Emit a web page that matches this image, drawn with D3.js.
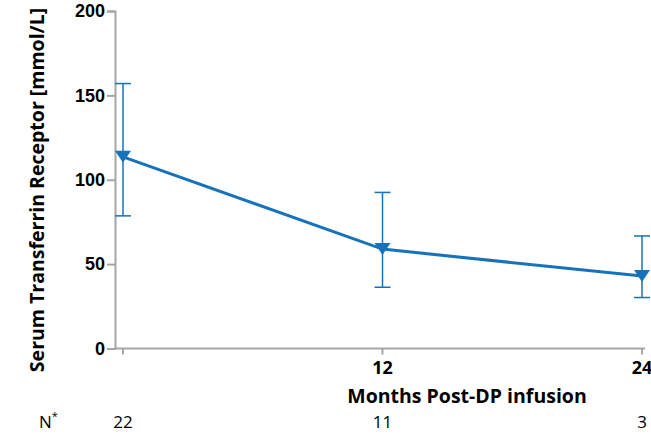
<!DOCTYPE html>
<html>
<head>
<meta charset="utf-8">
<script src="https://cdn.jsdelivr.net/npm/d3@7"></script>
<style>
  body { margin: 0; background: #fff; }
  svg { font-family: "Open Sans", "Noto Sans", sans-serif; }
</style>
</head>
<body>
<div id="chart"></div>
<script>
const months = [0, 12, 24];
const tickLabels = ["", "12", "24"];
const meanValues = [113.6, 58.9, 42.9];
const upperValues = [157, 92.5, 66.7];
const lowerValues = [78.6, 36.3, 30.2];
const nCounts = ["22", "11", "3"];
const yTicks = [0, 50, 100, 150, 200];

const width = 651, height = 434;
const blue = "#1672ba", grey = "#a6a6a6";

const svg = d3.select('#chart').append('svg')
    .attr('width', width)
    .attr('height', height);

const x = d3.scaleLinear().domain([0, 24]).range([123, 642]);
const y = d3.scaleLinear().domain([0, 200]).range([348.5, 11]);

// y axis
const yAxis = svg.append('g')
    .attr('transform', 'translate(115,0)')
    .call(d3.axisLeft(y).tickValues(yTicks).tickSize(8).tickPadding(2));
yAxis.select('.domain').attr('stroke', grey).attr('stroke-width', 2);
yAxis.selectAll('.tick line').attr('stroke', grey).attr('stroke-width', 2);
yAxis.selectAll('.tick text')
    .attr('fill', '#000')
    .style('font-size', '18px')
    .style('font-weight', 'bold');

// x axis
svg.append('line')
    .attr('x1', 114).attr('x2', 645)
    .attr('y1', y(0)).attr('y2', y(0))
    .attr('stroke', grey).attr('stroke-width', 2);
svg.selectAll('.xtick')
    .data(months)
    .enter().append('line')
    .attr('x1', d => x(d)).attr('x2', d => x(d))
    .attr('y1', y(0)).attr('y2', y(0) + 6)
    .attr('stroke', grey).attr('stroke-width', 2);
svg.selectAll('.xlabel')
    .data(months)
    .enter().append('text')
    .attr('x', d => x(d))
    .attr('y', 374)
    .attr('text-anchor', 'middle')
    .style('font-size', '18px')
    .style('font-weight', 'bold')
    .text((d, i) => tickLabels[i]);

// axis titles
svg.append('text')
    .attr('x', 467).attr('y', 403)
    .attr('text-anchor', 'middle')
    .style('font-size', '19.5px')
    .style('font-weight', 'bold')
    .text('Months Post-DP infusion');

svg.append('text')
    .attr('transform', 'translate(44,190) rotate(-90)')
    .attr('text-anchor', 'middle')
    .style('font-size', '19.5px')
    .style('font-weight', 'bold')
    .text('Serum Transferrin Receptor [mmol/L]');

// N row
svg.append('text')
    .attr('x', 39).attr('y', 428)
    .style('font-size', '17px')
    .text('N')
    .append('tspan')
    .attr('dy', -8)
    .style('font-size', '11px')
    .text('*');
svg.selectAll('.ncount')
    .data(months)
    .enter().append('text')
    .attr('x', d => x(d))
    .attr('y', 428)
    .attr('text-anchor', 'middle')
    .style('font-size', '17px')
    .text((d, i) => nCounts[i]);

// error bars
const bars = svg.append('g').attr('stroke', blue).attr('stroke-width', 1.5);
months.forEach((m, i) => {
    bars.append('line')
        .attr('x1', x(m)).attr('x2', x(m))
        .attr('y1', y(upperValues[i])).attr('y2', y(lowerValues[i]));
    [upperValues[i], lowerValues[i]].forEach(v => {
        bars.append('line')
            .attr('x1', x(m) - 8).attr('x2', x(m) + 8)
            .attr('y1', y(v)).attr('y2', y(v));
    });
});

// line
const line = d3.line()
    .x((d, i) => x(months[i]))
    .y(d => y(d));
svg.append('path')
    .datum(meanValues)
    .attr('d', line)
    .attr('fill', 'none')
    .attr('stroke', blue)
    .attr('stroke-width', 3);

// triangle markers (pointing down)
svg.selectAll('.marker')
    .data(meanValues)
    .enter().append('path')
    .attr('d', 'M-8,-6L8,-6L0,6Z')
    .attr('transform', (d, i) => `translate(${x(months[i])},${y(d)})`)
    .attr('fill', blue);
</script>
</body>
</html>
